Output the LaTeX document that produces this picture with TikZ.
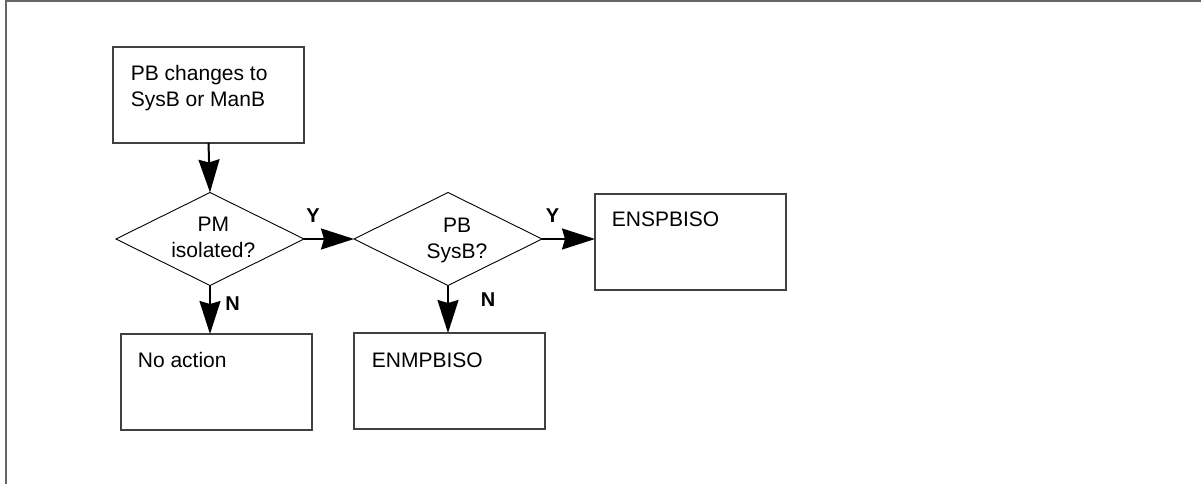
\documentclass[tikz,border=0pt]{standalone}
\usepackage{fontspec}
\setmainfont{Liberation Sans}
\usetikzlibrary{arrows.meta,shapes.geometric}
\begin{document}
\begin{tikzpicture}[x=1pt,y=-1pt,
  box/.style={draw=black!75, line width=1.2pt, minimum width=191pt, minimum height=96pt, inner sep=0pt, outer sep=0pt, anchor=north west},
  decision/.style={draw=black, line width=0.9pt, shape=diamond, minimum width=188pt, minimum height=93pt, inner sep=0pt, outer sep=0pt},
  txt/.style={font=\fontsize{21}{26}\selectfont, inner sep=0pt},
  lbl/.style={font=\fontsize{20}{22}\selectfont\bfseries, inner sep=0pt, anchor=base},
  flow/.style={line width=2pt, -{Stealth[length=33pt,width=21pt,inset=3pt]}},
]
\useasboundingbox (0,0) rectangle (1201,484);
\draw[draw=black!60, line width=2pt] (5.5,484) -- (5.5,1.5) -- (1201,1.5);

\node[box] (start) at (113,47) {};
\node[box] (noact) at (121,334) {};
\node[box] (enmp) at (354,333) {};
\node[box] (ensp) at (595,194) {};
\node[decision] (pm) at (210,239) {};
\node[decision] (pb) at (448,239) {};

\node[txt, anchor=base west, align=left] (t1) at (130.7,106.7) {PB changes to\\SysB or ManB};
\node[txt, anchor=base, align=center] (t2) at (213.3,257.7) {PM\\isolated?};
\node[txt, anchor=base, align=center] (t3) at (457,258) {PB\\SysB?};
\node[txt, anchor=base west] (t4) at (611.7,226) {ENSPBISO};
\node[txt, anchor=base west] (t5) at (137.7,367) {No action};
\node[txt, anchor=base west] (t6) at (371.7,367) {ENMPBISO};

\draw[flow] (start.south) -- (pm.north);
\draw[flow] (pm.east) -- (pb.west);
\draw[flow] (pb.east) -- (pb.east -| ensp.west);
\draw[flow] (pm.south) -- (pm.south |- noact.north);
\draw[flow] (pb.south) -- (pb.south |- enmp.north);

\node[lbl] (y1) at (313,222) {Y};
\node[lbl] (y2) at (552.5,222) {Y};
\node[lbl] (n1) at (232.5,310.5) {N};
\node[lbl] (n2) at (488,306.7) {N};
\end{tikzpicture}
\end{document}
